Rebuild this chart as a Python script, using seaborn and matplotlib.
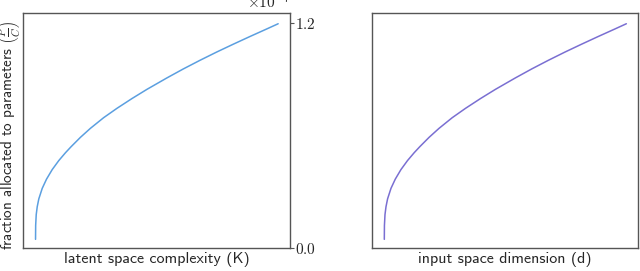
import numpy as np
import pandas as pd
import matplotlib
matplotlib.use('Agg')
import matplotlib.pyplot as plt
import seaborn as sns
from matplotlib.ticker import ScalarFormatter

# values (fraction in units of 1e-7)
latent_K = [1.0, 1.05, 1.28, 1.69, 2.34, 3.73, 5.48, 7.80, 10.48, 13.21, 15.5,
            19.31, 23.38, 28.79, 34.24, 40.35, 46.45, 54.6, 61.3, 68.1, 74.9,
            81.7, 88.5, 95.3, 100.0]
latent_frac = [0.046, 0.120, 0.178, 0.220, 0.262, 0.318, 0.367, 0.418, 0.466,
               0.508, 0.540, 0.590, 0.638, 0.695, 0.745, 0.797, 0.846, 0.907,
               0.955, 1.001, 1.045, 1.087, 1.128, 1.168, 1.196]

input_d = [1.0, 1.05, 1.28, 1.69, 2.34, 3.73, 5.48, 7.80, 10.48, 13.21, 15.5,
           19.31, 23.38, 28.79, 34.24, 40.35, 46.45, 54.6, 61.3, 68.1, 74.9,
           81.7, 88.5, 95.3, 100.0]
input_frac = [0.046, 0.120, 0.178, 0.220, 0.262, 0.318, 0.367, 0.418, 0.466,
              0.508, 0.540, 0.590, 0.638, 0.695, 0.745, 0.797, 0.846, 0.907,
              0.955, 1.001, 1.045, 1.087, 1.128, 1.168, 1.196]

yticks = [0.0, 1.2e-7]

sns.set_style('white')
plt.rcParams['font.family'] = 'cmr10'
plt.rcParams['mathtext.fontset'] = 'cm'
plt.rcParams['axes.unicode_minus'] = False
plt.rcParams['axes.formatter.use_mathtext'] = True

df_k = pd.DataFrame({'K': latent_K, 'frac': np.array(latent_frac) * 1e-7})
df_d = pd.DataFrame({'d': input_d, 'frac': np.array(input_frac) * 1e-7})

fig = plt.figure(figsize=(6.4, 2.71), dpi=100)
ax1 = fig.add_axes([0.036, 0.085, 0.417, 0.867])
ax2 = fig.add_axes([0.581, 0.085, 0.416, 0.867])

sns.lineplot(data=df_k, x='K', y='frac', ax=ax1, color='#5b9fe0', lw=1.1,
             estimator=None, sort=False)
sns.lineplot(data=df_d, x='d', y='frac', ax=ax2, color='#7a6fd2', lw=1.1,
             estimator=None, sort=False)

for ax in (ax1, ax2):
    ax.set_xlim(-4.1, 104.8)
    ax.set_ylim(0, 1.2533e-7)
    ax.set_xticks([])
    for s in ax.spines.values():
        s.set_color('#555555')
        s.set_linewidth(1.0)

ax1.set_xlabel('latent space complexity (K)', fontfamily='cmss10', fontsize=11.5, labelpad=3)
ax2.set_xlabel('input space dimension (d)', fontfamily='cmss10', fontsize=11.5, labelpad=3)
ax1.set_ylabel(r'fraction allocated to parameters $\left(\frac{P}{C}\right)$',
               fontfamily='cmss10', fontsize=10.9)
ax1.yaxis.set_label_coords(-0.004, 0.478)

ax1.yaxis.tick_right()
ax1.set_yticks(yticks)
fmt = ScalarFormatter(useMathText=True)
ax1.yaxis.set_major_formatter(fmt)
ax1.tick_params(axis='y', which='major', length=3, width=0.8, color='#555555',
                labelsize=11, pad=1, right=True, left=False)
ax1.yaxis.get_offset_text().set_fontsize(11)

ax2.set_yticks([])
ax2.set_ylabel('')

fig.savefig('out.png', dpi=100)
